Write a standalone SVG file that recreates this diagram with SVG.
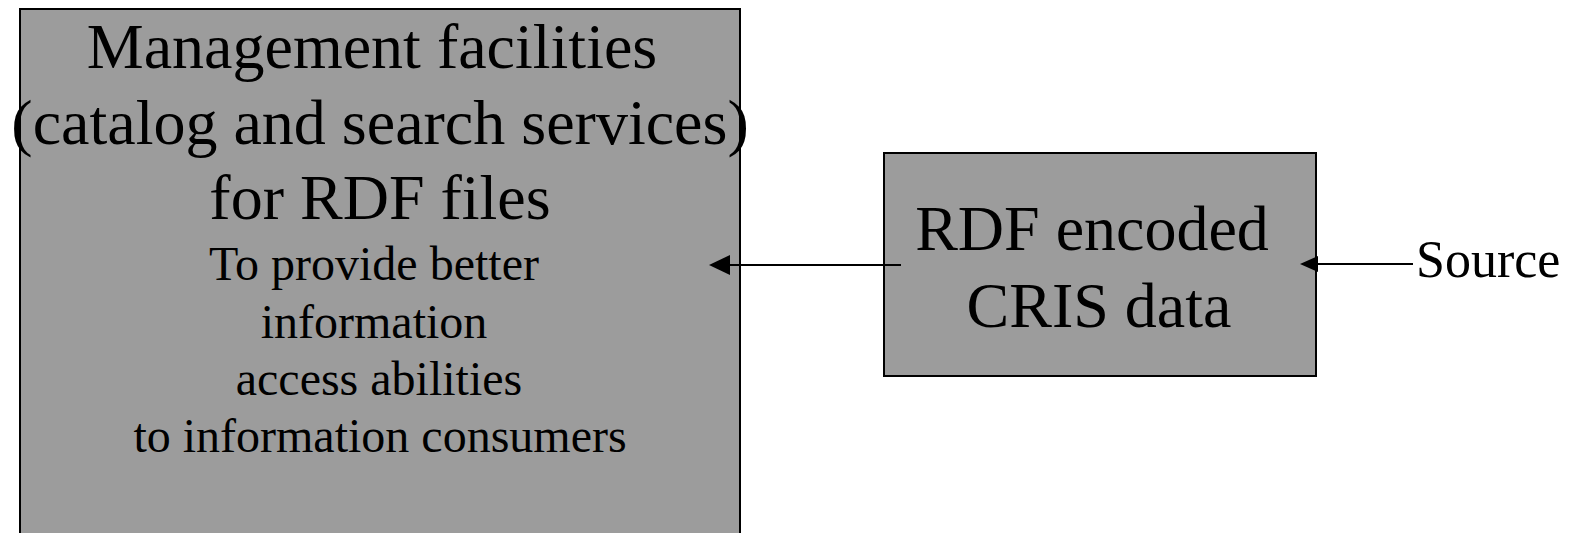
<svg xmlns="http://www.w3.org/2000/svg" width="1570" height="533" viewBox="0 0 1570 533">
<style>
.box{fill:#9c9c9c;stroke:#000;stroke-width:2}
.t{font-family:"Liberation Serif","Times New Roman",serif;fill:#000;text-anchor:middle}
.big{font-size:64px}
.small{font-size:48px}
.conn{stroke:#000;stroke-width:2;fill:none}
</style>
<defs>
<marker id="ah" markerWidth="10" markerHeight="10" refX="10" refY="5" orient="auto" markerUnits="strokeWidth">
<path d="M0,0 L10,5 L0,10 Z" fill="#000"/>
</marker>
</defs>
<rect width="1570" height="533" fill="#fff"/>
<g id="node-management">
<rect class="box" x="20" y="9" width="720" height="540"/>
<text class="t big" x="372" y="68">Management facilities</text>
<text class="t big" x="380" y="144">(catalog and search services)</text>
<text class="t big" x="380" y="219">for RDF files</text>
<text class="t small" x="374" y="280">To provide better</text>
<text class="t small" x="374" y="338">information</text>
<text class="t small" x="379" y="395">access abilities</text>
<text class="t small" x="380" y="452">to information consumers</text>
</g>
<g id="node-rdf">
<rect class="box" x="884" y="153" width="432" height="223"/>
<text class="t big" x="1092" y="250">RDF encoded</text>
<text class="t big" x="1099" y="327">CRIS data</text>
</g>
<g id="node-source">
<text class="t" style="font-size:52px;text-anchor:start" x="1416" y="277">Source</text>
</g>
<g id="connectors">
<line class="conn" x1="901" y1="265" x2="728" y2="265"/>
<path d="M709,265 L730,255 L730,275 Z" fill="#000"/>
<line class="conn" x1="1413" y1="264" x2="1316" y2="264"/>
<path d="M1300,264 L1318,256 L1318,272 Z" fill="#000"/>
</g>
</svg>
